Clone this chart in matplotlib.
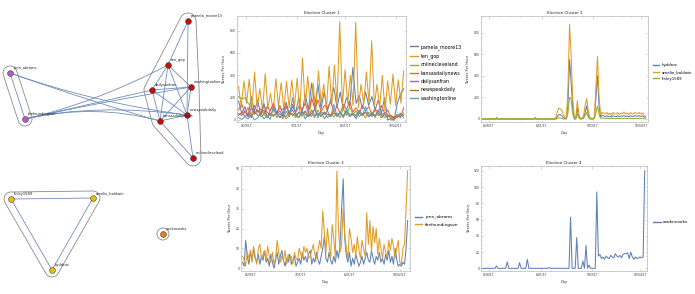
import numpy as np
import matplotlib
matplotlib.use('Agg')
import matplotlib.pyplot as plt
import pandas as pd
from matplotlib.path import Path
from matplotlib.patches import PathPatch, Polygon
from matplotlib.lines import Line2D
from matplotlib.ticker import FixedLocator, MultipleLocator

plt.rcParams['font.family'] = ['DejaVu Sans']

# ---------------- data ----------------
start_date = '2017-06-24'

c1_names = ['pamela_moore13', 'ten_gop', 'onlinecleveland', 'kansasdailynews',
            'dailysanfran', 'newspeakdaily', 'washingtonline']
pamela_moore13 = [170, 60, 120, 30, 210, 80, 180, 40, 150, 20, 90, 140, 60, 130, 50, 160, 40, 120,
                  70, 200, 60, 230, 90, 330, 120, 320, 100, 260, 80, 180, 290, 110, 250, 90, 200,
                  120, 470, 150, 220, 100, 250, 130, 210, 90, 180, 60, 200, 0, 10, 0, 150, 230, 280]
ten_gop = [300, 120, 350, 150, 365, 90, 430, 110, 280, 80, 415, 100, 240, 70, 370, 120, 335, 90,
           345, 110, 360, 120, 375, 60, 555, 130, 390, 100, 330, 60, 440, 150, 320, 90, 480, 130,
           490, 140, 880, 120, 450, 150, 400, 130, 875, 110, 320, 140, 430, 150, 710, 130, 320,
           110, 400, 80, 350, 140, 410, 130, 360, 150, 440]
onlinecleveland = [210, 190, 200, 150, 120, 60, 90, 30, 50, 20, 60, 30, 70, 20, 50, 10, 40, 60, 20,
                   70, 30, 80, 40, 60, 20, 90, 40, 70, 20, 50, 30, 60, 20, 100, 40, 120, 50, 80, 30,
                   60, 20, 70, 30, 90, 40, 60, 20, 50, 10, 30, 20, 60, 40]
kansasdailynews = [90, 140, 60, 110, 40, 130, 70, 100, 50, 120, 80, 150, 60, 110, 90, 130, 50, 140,
                   70, 120, 90, 150, 60, 200, 100, 180, 70, 130, 110, 160, 80, 120, 60, 140, 90,
                   170, 70, 110, 60, 130, 80, 120, 50, 100, 70, 130, 60, 90, 20, 10, 40, 20, 110]
dailysanfran = [60, 40, 80, 30, 110, 50, 90, 60, 130, 70, 40, 100, 50, 80, 30, 120, 60, 90, 40, 70,
                50, 80, 30, 60, 90, 40, 70, 50, 80, 30, 60, 40, 70, 30, 80, 50, 60, 40, 90, 50, 70,
                30, 60, 40, 80, 50, 60, 30, 40, 20, 50, 30, 60]
newspeakdaily = [40, 70, 30, 60, 20, 80, 40, 50, 90, 30, 60, 40, 70, 20, 50, 30, 80, 40, 60, 20, 70,
                 50, 30, 90, 40, 60, 30, 70, 50, 40, 80, 30, 60, 40, 70, 30, 50, 20, 60, 40, 70, 30,
                 50, 40, 60, 20, 50, 30, 40, 20, 30, 50, 40]
washingtonline = [20, 5, 30, 10, 50, 0, 20, 60, 10, 40, 5, 120, 20, 60, 10, 80, 30, 200, 40, 20, 90,
                  10, 60, 30, 110, 20, 80, 10, 50, 30, 140, 40, 70, 20, 100, 30, 60, 10, 80, 40, 120,
                  30, 70, 20, 90, 40, 60, 10, 0, 0, 30, 60, 20]

c2_names = ['hyddrox', 'amelie_baldwin', 'finley1589']
hyddrox = [0, 0, 0, 0, 0, 0, 0, 0, 0, 2,
           0, 0, 0, 0, 0, 0, 0, 0, 0, 0,
           0, 0, 0, 0, 0, 0, 0, 0, 0, 0,
           0, 0, 0, 0, 2, 0, 0, 0, 0, 0,
           0, 0, 0, 0, 0, 0, 0, 0, 20, 40,
           40, 30, 15, 5, 5, 150, 550, 350, 100, 5,
           0, 100, 20, 0, 5, 15, 60, 120, 40, 5,
           0, 0, 10, 200, 400, 120, 20, 35, 28, 22,
           30, 20, 28, 18, 30, 25, 22, 30, 20, 28,
           25, 32, 22, 28, 20, 30, 25, 22, 30, 28,
           25, 30, 22, 28, 18, 15]
amelie_baldwin = [0, 0, 0, 0, 0, 0, 0, 0, 0, 15,
                  0, 0, 0, 0, 4, 0, 0, 0, 0, 0,
                  0, 0, 0, 0, 0, 0, 0, 0, 0, 0,
                  0, 0, 0, 0, 15, 0, 0, 0, 0, 0,
                  0, 0, 0, 0, 0, 0, 0, 0, 60, 100,
                  95, 80, 40, 20, 10, 300, 880, 600, 200, 20,
                  5, 170, 40, 5, 10, 30, 120, 190, 80, 15,
                  5, 0, 20, 300, 580, 200, 40, 60, 55, 45,
                  60, 40, 55, 35, 60, 50, 45, 60, 40, 55,
                  50, 65, 45, 55, 40, 60, 50, 45, 60, 55,
                  50, 60, 45, 55, 30, 20]
finley1589 = [0, 0, 0, 0, 0, 0, 0, 0, 0, 0,
              0, 0, 0, 0, 0, 0, 0, 0, 0, 0,
              0, 0, 0, 0, 0, 0, 0, 0, 0, 0,
              0, 0, 0, 0, 0, 0, 0, 0, 0, 0,
              0, 0, 0, 0, 0, 0, 0, 0, 5, 10,
              10, 5, 0, 0, 0, 60, 200, 190, 50, 0,
              0, 50, 10, 0, 0, 5, 30, 60, 20, 0,
              0, 0, 5, 60, 120, 40, 5, 10, 8, 5,
              8, 3, 6, 2, 7, 4, 5, 8, 3, 6,
              4, 7, 5, 3, 8, 4, 6, 2, 5, 7,
              4, 6, 3, 5, 2, 1]

c3_names = ['jenn_abrams', 'thefoundingson']
jenn_abrams = [3, 1, 14, 6, 2, 8, 4, 10, 5, 3,
               7, 2, 6, 4, 9, 3, 5, 1, 7, 3,
               0, 4, 8, 2, 6, 9, 4, 1, 5, 3,
               7, 2, 4, 6, 1, 3, 5, 2, 8, 4,
               6, 3, 7, 9, 2, 5, 3, 8, 4, 2,
               6, 10, 16, 5, 3, 8, 4, 2, 6, 3,
               9, 5, 12, 30, 45, 15, 6, 3, 8, 1,
               5, 2, 7, 4, 1, 3, 6, 2, 5, 8,
               4, 3, 9, 5, 2, 6, 4, 8, 3, 5,
               2, 7, 4, 9, 3, 6, 2, 10, 5, 1,
               2, 1, 3, 2, 10, 24]
thefoundingson = [6, 4, 1, 8, 5, 9, 3, 11, 6, 2,
                  10, 12, 5, 7, 9, 4, 11, 6, 3, 8,
                  2, 5, 14, 8, 3, 6, 4, 9, 2, 7,
                  4, 6, 2, 8, 5, 4, 10, 7, 5, 11,
                  8, 10, 5, 6, 9, 12, 7, 5, 9, 14,
                  10, 29, 18, 8, 20, 12, 5, 22, 15, 6,
                  49, 20, 8, 12, 30, 17, 10, 5, 20, 15,
                  8, 12, 6, 16, 9, 5, 14, 10, 6, 28,
                  12, 24, 8, 21, 13, 20, 7, 15, 10, 5,
                  12, 8, 6, 14, 9, 15, 11, 5, 10, 14,
                  3, 2, 10, 12, 30, 49]

c4_names = ['cookncooks']
cookncooks = [0, 0, 0, 0, 0, 0, 0, 0, 0, 3,
              0, 0, 0, 0, 0, 0, 8, 0, 0, 0,
              0, 0, 0, 0, 7, 0, 0, 0, 0, 11,
              0, 0, 0, 0, 0, 0, 0, 0, 0, 0,
              0, 0, 0, 1, 0, 0, 0, 0, 0, 0,
              0, 0, 0, 0, 0, 0, 0, 63, 0, 0,
              0, 38, 0, 0, 0, 9, 0, 28, 0, 4,
              0, 0, 0, 0, 94, 15, 17, 12, 14, 11,
              15, 13, 12, 16, 14, 13, 18, 15, 14, 16,
              13, 17, 18, 18, 19, 12, 20, 14, 11, 14,
              12, 13, 14, 13, 14, 120]

c13_tick_days = [5, 37, 68, 100]
c24_tick_days = [4, 38, 71, 102]

# network (layout in pixel space of left panel)
node_names = ['pamela_moore13', 'ten_gop', 'dailysanfran', 'washingtonline', 'newspeakdaily',
              'kansasdailynews', 'onlinecleveland', 'jenn_abrams', 'thefoundingson',
              'finley1589', 'amelie_baldwin', 'hyddrox', 'cookncooks']
node_x = [188, 168, 152, 191, 187, 160, 193, 10, 25, 11, 93, 52, 163]
node_y = [21, 65, 90, 87, 115, 121, 158, 73, 119, 199, 198, 270, 234]
node_group = [1, 1, 1, 1, 1, 1, 1, 3, 3, 2, 2, 2, 4]
edges = [('pamela_moore13', 'ten_gop'), ('ten_gop', 'dailysanfran'), ('ten_gop', 'washingtonline'),
         ('ten_gop', 'newspeakdaily'), ('ten_gop', 'kansasdailynews'),
         ('dailysanfran', 'washingtonline'), ('dailysanfran', 'newspeakdaily'),
         ('dailysanfran', 'kansasdailynews'), ('washingtonline', 'newspeakdaily'),
         ('washingtonline', 'kansasdailynews'), ('newspeakdaily', 'kansasdailynews'),
         ('pamela_moore13', 'newspeakdaily'),
         ('onlinecleveland', 'kansasdailynews'), ('onlinecleveland', 'newspeakdaily'),
         ('jenn_abrams', 'thefoundingson'),
         ('finley1589', 'amelie_baldwin'), ('finley1589', 'hyddrox'), ('amelie_baldwin', 'hyddrox')]
cross_edges = [('thefoundingson', 'dailysanfran'), ('thefoundingson', 'ten_gop'),
               ('thefoundingson', 'washingtonline'), ('thefoundingson', 'kansasdailynews'),
               ('thefoundingson', 'newspeakdaily'), ('jenn_abrams', 'newspeakdaily'),
               ('jenn_abrams', 'kansasdailynews')]

# ---------------- styling ----------------
mma = ['#5E81B5', '#E19C24', '#8FB032', '#EB6235', '#8778B3', '#C56E1A', '#5D9EC7']
group_colors = {1: '#CC0A0A', 2: '#E6BE0A', 3: '#B45AC8', 4: '#EE7A1A'}
W, H = 695, 294

fig = plt.figure(figsize=(W / 100, H / 100), dpi=100)

# ---------------- network panel ----------------
axn = fig.add_axes([0, 0, 229.3 / W, 1])
axn.set_xlim(0, 229.3)
axn.set_ylim(H, 0)
axn.axis('off')

pos = {n: (x, y) for n, x, y in zip(node_names, node_x, node_y)}


def rounded_hull(pts_xy, r):
    pts = []
    for x, y in pts_xy:
        for a in np.linspace(0, 2 * np.pi, 48, endpoint=False):
            pts.append((x + r * np.cos(a), y + r * np.sin(a)))
    pts = sorted(set(pts))

    def cross(o, a, b):
        return (a[0] - o[0]) * (b[1] - o[1]) - (a[1] - o[1]) * (b[0] - o[0])
    lower = []
    for p in pts:
        while len(lower) >= 2 and cross(lower[-2], lower[-1], p) <= 0:
            lower.pop()
        lower.append(p)
    upper = []
    for p in reversed(pts):
        while len(upper) >= 2 and cross(upper[-2], upper[-1], p) <= 0:
            upper.pop()
        upper.append(p)
    return lower[:-1] + upper[:-1]


hull_pad = {1: 8, 2: 7, 3: 7, 4: 6}
for g in [1, 2, 3, 4]:
    pts = [(x, y) for x, y, gg in zip(node_x, node_y, node_group) if gg == g]
    hull = rounded_hull(pts, hull_pad[g])
    axn.add_patch(Polygon(hull, closed=True, fill=False, edgecolor='#8a8a8a', lw=0.6, zorder=1))

edge_col = '#6F8DBB'
for a, b in edges:
    (x0, y0), (x1, y1) = pos[a], pos[b]
    axn.plot([x0, x1], [y0, y1], color=edge_col, lw=0.6, zorder=2)

bundle_ctrl = (95, 103)
for a, b in cross_edges:
    p0, p1 = pos[a], pos[b]
    path = Path([p0, bundle_ctrl, p1], [Path.MOVETO, Path.CURVE3, Path.CURVE3])
    axn.add_patch(PathPatch(path, fill=False, edgecolor=edge_col, lw=0.6, zorder=2))

for n, x, y, g in zip(node_names, node_x, node_y, node_group):
    axn.plot(x, y, 'o', ms=4.2, mfc=group_colors[g], mec='#444444', mew=0.4, zorder=3)
    axn.text(x + 3, y - 3, n, fontsize=2.6, ha='left', va='bottom', color='#222222', zorder=4)


# ---------------- time series panels ----------------
def fmt_date(d):
    return f"{d.month}/{d.day:02d}/{d.year % 100}"


def make_ts(rect, title, names, series, ylim, ymajor, yminor, tick_days, legend_xy, legend_fs):
    ax = fig.add_axes(rect)
    handles = []
    for i, (nm, s) in enumerate(zip(names, series)):
        x = np.linspace(0, 105, len(s))
        ax.plot(x, s, color=mma[i], lw=0.75, solid_joinstyle='round')
        handles.append(Line2D([], [], color=mma[i], lw=1.0))
    ax.set_xlim(-1, 106.5)
    ax.set_ylim(*ylim)
    ax.yaxis.set_major_locator(MultipleLocator(ymajor))
    ax.yaxis.set_minor_locator(MultipleLocator(yminor))
    ax.xaxis.set_major_locator(FixedLocator(tick_days))
    minors = []
    td = [tick_days[0] - (tick_days[1] - tick_days[0])] + list(tick_days) + \
         [tick_days[-1] + (tick_days[-1] - tick_days[-2])]
    for a, b in zip(td[:-1], td[1:]):
        minors.extend(np.linspace(a, b, 6)[1:-1])
    ax.xaxis.set_minor_locator(FixedLocator(minors))
    d0 = pd.Timestamp(start_date)
    ax.set_xticklabels([fmt_date(d0 + pd.Timedelta(days=int(d))) for d in tick_days])
    for sp in ax.spines.values():
        sp.set_color('#b8b8b8')
        sp.set_linewidth(0.5)
    ax.tick_params(which='both', direction='in', top=True, right=True, color='#b8b8b8',
                   width=0.4, labelsize=2.2, pad=1.2, labelcolor='#333333')
    ax.tick_params(which='major', length=1.8)
    ax.tick_params(which='minor', length=0.9)
    ax.set_title(title, fontsize=2.9, pad=1.6, color='#222222')
    ax.set_xlabel('Day', fontsize=2.6, labelpad=2.5, color='#333333')
    ax.set_ylabel('Tweets Per Hour', fontsize=2.6, labelpad=2.0, color='#333333')
    ax.legend(handles, names, loc='center left', bbox_to_anchor=(legend_xy[0] / W, 1 - legend_xy[1] / H),
              bbox_transform=fig.transFigure, frameon=False, fontsize=legend_fs, handlelength=1.7,
              handletextpad=0.55, labelspacing=0.72, borderpad=0, borderaxespad=0)
    return ax


def rect_px(l, r, t, b):
    return [l / W, 1 - b / H, (r - l) / W, (b - t) / H]


make_ts(rect_px(237, 406, 16, 122), 'Election Cluster 1', c1_names,
        [pamela_moore13, ten_gop, onlinecleveland, kansasdailynews, dailysanfran, newspeakdaily,
         washingtonline], (-18, 931), 200, 50, c13_tick_days, (410, 72.5), 3.4)
make_ts(rect_px(481, 648, 16, 122), 'Election Cluster 2', c2_names,
        [hyddrox, amelie_baldwin, finley1589], (-28, 955), 200, 50, c24_tick_days, (653, 72), 2.75)
make_ts(rect_px(241, 410, 166, 271), 'Election Cluster 3', c3_names,
        [jenn_abrams, thefoundingson], (-1.4, 51.5), 10, 2, c13_tick_days, (415, 221), 3.1)
make_ts(rect_px(481, 647, 166, 271), 'Election Cluster 4', c4_names,
        [cookncooks], (-3.3, 126), 20, 5, c24_tick_days, (653, 222), 3.2)

fig.savefig('out.png', dpi=100)
